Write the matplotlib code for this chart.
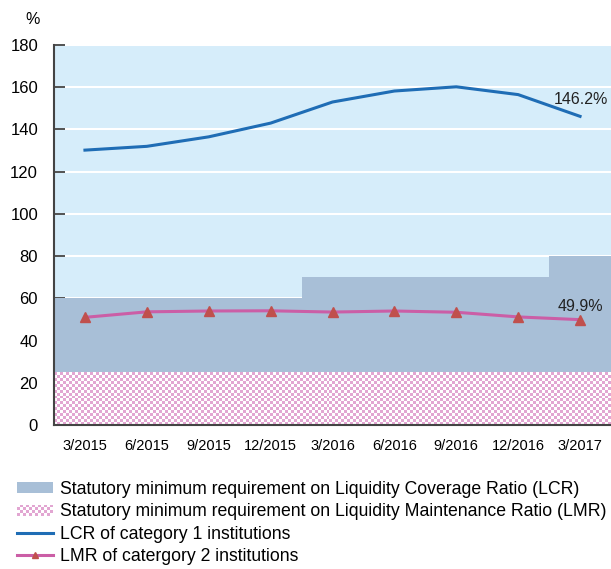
import numpy as np
import matplotlib.pyplot as plt
from matplotlib.patches import Patch, Rectangle
from matplotlib.lines import Line2D
from matplotlib.legend_handler import HandlerBase
from matplotlib.colors import ListedColormap

plt.rcParams['font.family'] = ['Liberation Sans', 'DejaVu Sans']

# data
quarters = ['3/2015', '6/2015', '9/2015', '12/2015', '3/2016',
            '6/2016', '9/2016', '12/2016', '3/2017']
lcr_cat1 = [130.2, 132.0, 136.5, 143.0, 153.0, 158.2, 160.2, 156.5, 146.2]
lmr_cat2 = [51.0, 53.6, 54.0, 54.1, 53.5, 54.0, 53.4, 51.2, 49.9]
lcr_min = [60, 60, 60, 60, 70, 70, 70, 70, 80]
lmr_min = 25

bg = '#d6edfa'
lcr_fill = '#a8bfd7'
pink = '#e2a6d2'
blue = '#1f6db5'
magenta = '#cb5ea6'
red = '#c0504d'


class CheckerHandler(HandlerBase):
    # legend swatch drawn as a small checkerboard
    def create_artists(self, legend, orig_handle, xdescent, ydescent,
                       width, height, fontsize, trans):
        arts = []
        nx, ny = 12, 4
        cw, ch = width / nx, height / ny
        for i in range(nx):
            for j in range(ny):
                c = pink if (i + j) % 2 == 0 else 'white'
                arts.append(Rectangle((-xdescent + i * cw, -ydescent + j * ch), cw, ch,
                                      facecolor=c, edgecolor='none', transform=trans))
        return arts


fig = plt.figure(figsize=(6.11, 5.69), dpi=100)
ax = fig.add_axes([54 / 611, 1 - 425 / 569, 1 - 54 / 611, 380 / 569])
ax.set_facecolor(bg)

x = np.arange(len(quarters))

# LCR requirement as a step area
ax.fill_between(np.append(x - 0.5, x[-1] + 0.5), np.append(lcr_min, lcr_min[-1]),
                step='post', color=lcr_fill, lw=0, zorder=2)

# LMR requirement as checker pattern
cell = 3 / 62  # about 3 px in data units along x
nx = int(round(9 / cell))
ny = int(round(lmr_min * 2.111 / 3))
checker = (np.add.outer(np.arange(ny), np.arange(nx)) % 2).astype(float)
ax.imshow(checker, cmap=ListedColormap([pink, 'white']), extent=(-0.5, 8.5, 0, lmr_min),
          aspect='auto', interpolation='nearest', zorder=3)

ax.plot(x, lcr_cat1, color=blue, lw=2.2, zorder=5)
ax.plot(x, lmr_cat2, color=magenta, lw=2.2, zorder=5,
        marker='^', markersize=7.5, markerfacecolor=red, markeredgecolor=red)

ax.annotate(f'{lcr_cat1[-1]}%', (x[-1], lcr_cat1[-1]), xytext=(-19, 9),
            textcoords='offset points', fontsize=11.5, color='#222222')
ax.annotate(f'{lmr_cat2[-1]}%', (x[-1], lmr_cat2[-1]), xytext=(-16, 6),
            textcoords='offset points', fontsize=11.5, color='#222222')

ax.set_xlim(-0.5, 8.5)
ax.set_ylim(0, 180)
ax.set_yticks(range(0, 181, 20))
ax.set_xticks(x)
ax.set_xticklabels(quarters, fontsize=10.5)
ax.tick_params(axis='y', direction='in', length=8, width=1.3, labelsize=12, pad=11.5,
               color='#444444')
ax.tick_params(axis='x', direction='in', length=8, width=1.3, pad=10, color='#444444')
ax.grid(axis='y', color='white', lw=1.5, zorder=1)
ax.set_axisbelow(True)
for s in ['top', 'right']:
    ax.spines[s].set_visible(False)
for s in ['left', 'bottom']:
    ax.spines[s].set_color('#444444')
    ax.spines[s].set_linewidth(1.5)
    ax.spines[s].set_zorder(6)

fig.text(25 / 611, 1 - 20 / 569, '%', fontsize=11.5, va='center')

handles = [Patch(facecolor=lcr_fill, edgecolor='none'),
           Patch(facecolor=pink),
           Line2D([], [], color=blue, lw=2.2),
           Line2D([], [], color=magenta, lw=2.2, marker='^', markersize=5,
                  markerfacecolor=red, markeredgecolor=red)]
labels = ['Statutory minimum requirement on Liquidity Coverage Ratio (LCR)',
          'Statutory minimum requirement on Liquidity Maintenance Ratio (LMR)',
          'LCR of category 1 institutions',
          'LMR of catergory 2 institutions']
fig.legend(handles, labels, loc='upper left', bbox_to_anchor=(10 / 611, 1 - 474 / 569),
           frameon=False, fontsize=12.7, handlelength=2.05, handleheight=0.6,
           handletextpad=0.4, labelspacing=0.3, borderaxespad=0,
           handler_map={handles[1]: CheckerHandler()})

fig.savefig('out.png', dpi=100)
